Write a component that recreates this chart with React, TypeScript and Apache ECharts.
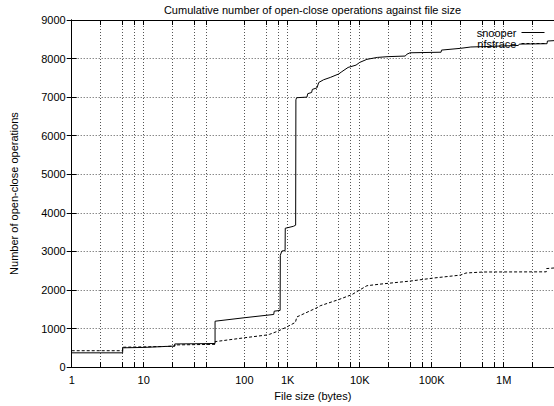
import React, { useEffect, useRef } from 'react';
import * as echarts from 'echarts';

// ---- data (file size in bytes, cumulative open-close operations) ----
const snooperBytes = [1, 5.1, 5.1, 10, 20, 27, 27, 50, 98, 98, 250, 640, 650, 785, 790, 830, 920, 925, 1200, 1290, 1300, 1330, 1850, 1900, 2150, 2200, 2550, 2700, 3150, 3900, 5100, 5650, 6900, 8900, 10000, 12600, 17600, 25000, 43000, 45000, 50000, 135000, 137000, 250000, 350000, 520000, 1600000, 1650000, 4000000, 4050000, 5000000];
const snooperOps = [370, 370, 500, 510, 535, 545, 600, 605, 612, 1190, 1280, 1365, 1450, 1470, 2900, 3010, 3020, 3600, 3650, 3680, 6930, 6985, 7000, 7090, 7120, 7200, 7240, 7380, 7450, 7510, 7600, 7660, 7770, 7830, 7900, 7980, 8030, 8050, 8065, 8110, 8150, 8165, 8220, 8265, 8300, 8310, 8340, 8375, 8385, 8455, 8465];

const nfstraceBytes = [1, 5.1, 5.1, 20, 27, 27, 98, 98, 250, 500, 560, 750, 980, 1280, 1340, 2550, 2830, 5100, 7800, 10000, 12600, 19000, 50000, 107000, 250000, 300000, 520000, 3900000, 3950000, 5000000];
const nfstraceOps = [425, 425, 515, 535, 545, 575, 590, 660, 760, 830, 850, 940, 1045, 1160, 1300, 1540, 1590, 1750, 1880, 2000, 2110, 2150, 2230, 2310, 2385, 2440, 2466, 2470, 2555, 2570];

// ---- axes ----
const xMin = 1;
const xMax = 5000000;
const gridBytes = [1, 2.5, 5, 7.5, 10, 25, 50, 75, 250, 500, 750, 1000, 2500, 5000, 7500, 10000, 25000, 50000, 75000, 100000, 250000, 500000, 750000, 1000000, 2500000, 5000000];
const labelBytes = [1, 10, 250, 1000, 10000, 100000, 1000000];
const labelTexts = ['1', '10', '100', '1K', '10K', '100K', '1M'];
const yMin = 0;
const yMax = 9000;
const yStep = 1000;

const FONT = '"Liberation Sans", Arial, Helvetica, sans-serif';

export default function App() {
  const ref = useRef<HTMLDivElement>(null);

  useEffect(() => {
    const chart = echarts.init(ref.current as HTMLDivElement, null, { renderer: 'svg' });
    const lg = (v: number) => Math.log10(v);
    const logMax = lg(xMax);
    const dotted = { color: '#555', type: [1, 2], width: 1 };
    const blackLine = { show: true, lineStyle: { color: '#000', width: 1 } };
    const txt = { fontSize: 11, color: '#000', fontFamily: FONT };

    const decoX = (position: string, withLabels: boolean) => ({
      type: 'value',
      position,
      min: 0,
      max: logMax,
      axisLine: blackLine,
      axisTick: {
        show: true,
        inside: true,
        length: 5,
        customValues: gridBytes.map(lg),
        lineStyle: { color: '#000', width: 1 },
      },
      axisLabel: withLabels
        ? {
            show: true,
            customValues: labelBytes.map(lg),
            formatter: (v: number) => {
              for (let i = 0; i < labelBytes.length; i++) {
                if (Math.abs(lg(labelBytes[i]) - v) < 1e-6) return labelTexts[i];
              }
              return '';
            },
            margin: 7,
            ...txt,
          }
        : { show: false },
      splitLine: withLabels ? { show: true, lineStyle: dotted } : { show: false },
      name: withLabels ? 'File size (bytes)' : '',
      nameLocation: 'middle',
      nameGap: 16,
      nameTextStyle: txt,
    });

    chart.setOption({
      animation: false,
      backgroundColor: '#fff',
      title: {
        text: 'Cumulative number of open-close operations against file size',
        left: 312.5,
        top: 4,
        padding: 0,
        textAlign: 'center',
        textStyle: { ...txt, fontWeight: 'normal' },
      },
      legend: {
        orient: 'vertical',
        right: 9,
        top: 27,
        align: 'right',
        padding: 0,
        itemGap: 0,
        itemWidth: 23,
        itemHeight: 11,
        textStyle: txt,
        itemStyle: { opacity: 0 },
        lineStyle: { width: 1 },
        data: ['snooper', 'nfstrace'],
      },
      grid: { left: 71.7, right: 0, top: 20, bottom: 33.3, containLabel: false },
      xAxis: [
        { type: 'log', logBase: 10, min: xMin, max: xMax, show: false, position: 'bottom' },
        decoX('bottom', true),
        decoX('top', false),
      ],
      yAxis: [
        {
          type: 'value',
          position: 'left',
          min: yMin,
          max: yMax,
          interval: yStep,
          axisLine: blackLine,
          axisTick: { show: true, inside: true, length: 5, lineStyle: { color: '#000' } },
          axisLabel: { margin: 6, formatter: (v: number) => String(v), ...txt },
          splitLine: { show: true, lineStyle: dotted },
          name: 'Number of open-close operations',
          nameLocation: 'middle',
          nameGap: 52,
          nameTextStyle: txt,
        },
        {
          type: 'value',
          position: 'right',
          min: yMin,
          max: yMax,
          interval: yStep,
          axisLine: blackLine,
          axisTick: { show: true, inside: true, length: 5, lineStyle: { color: '#000' } },
          axisLabel: { show: false },
          splitLine: { show: false },
        },
      ],
      series: [
        {
          name: 'snooper',
          type: 'line',
          xAxisIndex: 0,
          yAxisIndex: 0,
          symbol: 'none',
          data: snooperBytes.map((b, i) => [b, snooperOps[i]]),
          lineStyle: { color: '#000', width: 1, type: 'solid' },
          itemStyle: { color: '#000' },
        },
        {
          name: 'nfstrace',
          type: 'line',
          xAxisIndex: 0,
          yAxisIndex: 0,
          symbol: 'none',
          data: nfstraceBytes.map((b, i) => [b, nfstraceOps[i]]),
          lineStyle: { color: '#000', width: 1, type: [3, 2] },
          itemStyle: { color: '#000' },
        },
      ],
    });

    return () => chart.dispose();
  }, []);

  return (
    <div
      ref={ref}
      style={{ position: 'absolute', left: 0, top: 0, width: 554, height: 406 }}
    />
  );
}
